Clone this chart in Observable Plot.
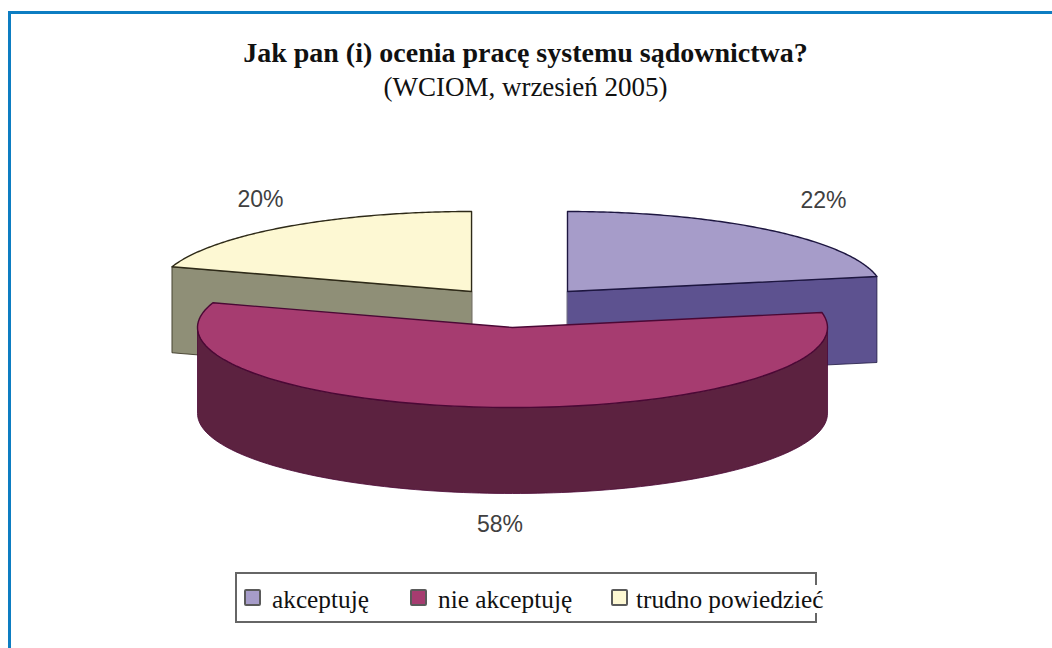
<!DOCTYPE html>
<html lang="pl">
<head>
<meta charset="utf-8">
<script src="https://cdn.jsdelivr.net/npm/d3@7"></script>
<script src="https://cdn.jsdelivr.net/npm/@observablehq/plot@0.6"></script>
<style>
  html, body { margin: 0; background: #fff; }
  #page { position: relative; width: 1052px; height: 648px; overflow: hidden; font-family: "Liberation Serif", serif; color: #111; }
  #frame { position: absolute; left: 8px; top: 11px; width: 1100px; height: 700px; border-left: 3px solid #0d7dc2; border-top: 3px solid #0d7dc2; }
  #head { position: absolute; left: 0; width: 1051px; top: 37px; text-align: center; }
  #title { display: block; font-size: 28px; line-height: 32px; font-weight: bold; }
  #subtitle { display: block; font-size: 27px; line-height: 36px; }
  #chart { position: absolute; left: 0; top: 170px; }
  #legend { position: absolute; left: 235px; top: 572px; width: 582px; height: 51px; box-sizing: border-box; border: 2px solid #666; }
  #legend .item { position: absolute; top: 11px; white-space: nowrap; font-size: 25.3px; line-height: 28px; background: #fff; }
  #legend .sw { position: absolute; top: 15px; box-sizing: border-box; width: 17px; height: 17px; border: 2px solid #5a5a5a; border-radius: 2px; }
</style>
</head>
<body>
<div id="page">
  <div id="frame"></div>
  <div id="head"><span id="title"></span><span id="subtitle"></span></div>
  <div id="chart"></div>
  <div id="legend"></div>
</div>
<script>
const titleText = "Jak pan (i) ocenia pracę systemu sądownictwa?";
const subtitleText = "(WCIOM, wrzesień 2005)";
const categories = ["akceptuję", "nie akceptuję", "trudno powiedzieć"];
const shares = [22, 58, 20];
const topColors = ["#a69cc9", "#a63c70", "#fdf8d3"];
const sideColors = ["#5d5290", "#5c2240", "#8f8f77"];
const edgeColors = ["#1d1640", "#4a0835", "#2e2a18"];

// Exploded offset of each slice, and its label position, in pie radii.
const explode = [[0.1746, 0.45], [0, 0], [-0.13, 0.45]];
const labelAt = [[0.987, 1.58], [-0.04, -2.46], [-0.8, 1.6]];
const depth = 1.075;

// Slice angles accumulate clockwise from twelve o'clock.
let sum = 0;
const slices = shares.map((share, i) => {
  const a0 = (sum / 100) * 2 * Math.PI;
  sum += share;
  const a1 = (sum / 100) * 2 * Math.PI;
  return {i, share, a0, a1, ox: explode[i][0], oy: explode[i][1]};
});

const rim = (s, from, to, drop = 0) => d3.range(0, 121).map((k) => {
  const a = from + ((to - from) * k) / 120;
  return {x: s.ox + Math.sin(a), y: s.oy + Math.cos(a) - drop};
});
const apex = (s, drop = 0) => ({x: s.ox, y: s.oy - drop});

// Upper face of a slice: apex, then along the rim, then back.
const topFace = (s) => [apex(s), ...rim(s, s.a0, s.a1), apex(s)];

// The extruded wall seen from the front.
function sideWall(s) {
  if (s.i === 1) {
    const r = [Math.PI / 2, 3 * Math.PI / 2];
    return [...rim(s, r[0], r[1]), ...rim(s, r[1], r[0], depth)];
  }
  const a = s.i === 0 ? s.a1 : s.a0;
  const p = {x: s.ox + Math.sin(a), y: s.oy + Math.cos(a)};
  return [apex(s), p, {x: p.x, y: p.y - depth}, apex(s, depth)];
}

const wallMark = (s) => Plot.line(sideWall(s), {
  x: "x", y: "y", fill: sideColors[s.i], stroke: edgeColors[s.i], strokeWidth: 0.8, curve: "linear-closed"
});
const faceMark = (s) => Plot.line(topFace(s), {
  x: "x", y: "y", fill: topColors[s.i], stroke: edgeColors[s.i], strokeWidth: 1.4, curve: "linear-closed"
});

const [pro, contra, unsure] = slices;

const svg = Plot.plot({
  width: 1052,
  height: 370,
  margin: 0,
  // One pie radius spans 315 px across and 80 px down after the tilt.
  x: {domain: [-1, 1], range: [197, 827], axis: null},
  y: {domain: [1, -1], range: [77, 237], axis: null},
  marks: [
    wallMark(unsure),
    wallMark(pro),
    faceMark(unsure),
    faceMark(pro),
    wallMark(contra),
    faceMark(contra),
    Plot.text(slices, {
      x: (d) => labelAt[d.i][0],
      y: (d) => labelAt[d.i][1],
      text: (d) => `${d.share}%`,
      fontFamily: "Liberation Sans, sans-serif",
      fontSize: 23,
      fill: "#404040"
    })
  ]
});
document.getElementById("chart").append(svg);

document.getElementById("title").textContent = titleText;
document.getElementById("subtitle").textContent = subtitleText;

const swatchLeft = [7, 173, 374];
const textLeft = [35, 201, 399];
const legend = document.getElementById("legend");
categories.forEach((name, i) => {
  const sw = document.createElement("span");
  sw.className = "sw";
  sw.style.cssText = `left:${swatchLeft[i]}px;background:${topColors[i]}`;
  legend.append(sw);
  const t = document.createElement("span");
  t.className = "item";
  t.style.left = `${textLeft[i]}px`;
  t.textContent = name;
  legend.append(t);
});
</script>
</body>
</html>
